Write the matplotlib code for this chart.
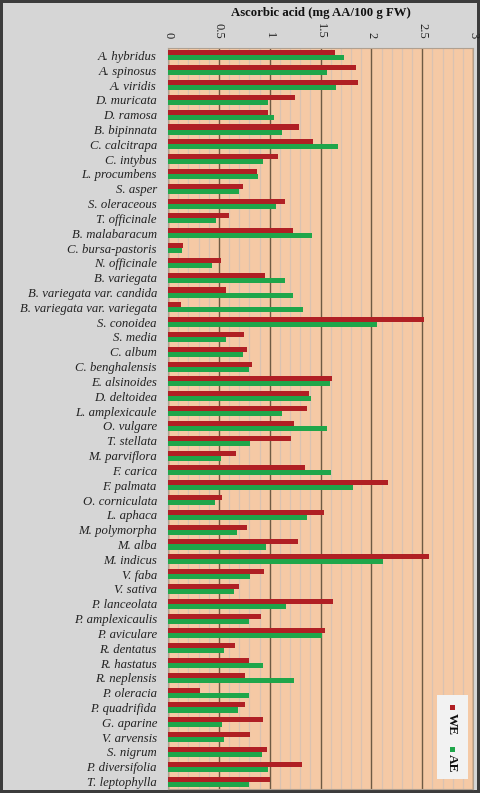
import numpy as np
import matplotlib.pyplot as plt
from matplotlib.patches import Rectangle

species = ['A. hybridus', 'A. spinosus', 'A. viridis', 'D. muricata', 'D. ramosa',
           'B. bipinnata', 'C. calcitrapa', 'C. intybus', 'L. procumbens', 'S. asper',
           'S. oleraceous', 'T. officinale', 'B. malabaracum', 'C. bursa-pastoris',
           'N. officinale', 'B. variegata', 'B. variegata var. candida',
           'B. variegata var. variegata', 'S. conoidea', 'S. media', 'C. album',
           'C. benghalensis', 'E. alsinoides', 'D. deltoidea', 'L. amplexicaule',
           'O. vulgare', 'T. stellata', 'M. parviflora', 'F. carica', 'F. palmata',
           'O. corniculata', 'L. aphaca', 'M. polymorpha', 'M. alba', 'M. indicus',
           'V. faba', 'V. sativa', 'P. lanceolata', 'P. amplexicaulis', 'P. aviculare',
           'R. dentatus', 'R. hastatus', 'R. neplensis', 'P. oleracia', 'P. quadrifida',
           'G. aparine', 'V. arvensis', 'S. nigrum', 'P. diversifolia', 'T. leptophylla']

we = [1.64, 1.85, 1.87, 1.25, 0.98, 1.29, 1.43, 1.08, 0.88, 0.74,
      1.15, 0.60, 1.23, 0.15, 0.52, 0.95, 0.57, 0.13, 2.52, 0.75,
      0.78, 0.83, 1.61, 1.39, 1.37, 1.24, 1.21, 0.67, 1.35, 2.16,
      0.53, 1.53, 0.78, 1.28, 2.57, 0.94, 0.70, 1.62, 0.91, 1.54,
      0.66, 0.80, 0.76, 0.31, 0.76, 0.93, 0.81, 0.97, 1.32, 1.00]

ae = [1.73, 1.56, 1.65, 0.98, 1.04, 1.12, 1.67, 0.93, 0.89, 0.70,
      1.06, 0.47, 1.42, 0.14, 0.43, 1.15, 1.23, 1.33, 2.06, 0.57,
      0.74, 0.80, 1.59, 1.41, 1.12, 1.56, 0.81, 0.52, 1.60, 1.82,
      0.46, 1.37, 0.68, 0.96, 2.11, 0.81, 0.65, 1.16, 0.80, 1.51,
      0.55, 0.93, 1.24, 0.80, 0.69, 0.53, 0.55, 0.92, 0.98, 0.80]

series = ['WE', 'AE']
colors = ['#b01f24', '#1fa64a']

plt.rcParams['font.family'] = ['Liberation Serif', 'DejaVu Serif']

W, H = 480, 793
fig = plt.figure(figsize=(W / 100, H / 100), dpi=100)
fig.patch.set_facecolor('#d6d6d6')
fig.patch.set_edgecolor('#3c3c3c')
fig.patch.set_linewidth(4)

x0, x1, y0, y1 = 168, 473, 48, 789
ax = fig.add_axes([x0 / W, 1 - y1 / H, (x1 - x0) / W, (y1 - y0) / H])
ax.set_facecolor('#f5c9a5')

y = np.arange(len(species))
h = 0.34
ax.barh(y - h / 2, we, height=h, color=colors[0], zorder=3)
ax.barh(y + h / 2, ae, height=h, color=colors[1], zorder=3)

ax.set_xlim(0, 3)
ax.set_ylim(len(species) - 0.5, -0.5)
ax.set_yticks(y)
ax.set_yticklabels(species, fontsize=9.2, style='italic', color='#222222')
ax.tick_params(axis='y', length=0, pad=8)

ax.xaxis.tick_top()
ax.set_xticks(np.arange(0, 3.01, 0.5))
ax.set_xticklabels(['0', '0.5', '1', '1.5', '2', '2.5', '3'])
ax.set_xticks(np.arange(0, 3.01, 0.1), minor=True)
ax.tick_params(axis='x', which='both', length=0, pad=7, labelsize=9, labelcolor='#222222')
for t in ax.get_xticklabels():
    t.set_rotation(-90)
    t.set_va('bottom')
    t.set_ha('center')

ax.grid(axis='x', which='major', color='#6e5a44', linewidth=1.0, zorder=1)
ax.grid(axis='x', which='minor', color='#d9c2b2', linewidth=0.9, zorder=0)
ax.grid(axis='y', visible=False)
for s in ax.spines.values():
    s.set_color('#b0a090')
    s.set_linewidth(0.8)

fig.text((x0 + x1) / 2 / W, 1 - 13 / H, 'Ascorbic acid (mg AA/100 g FW)',
         ha='center', va='center', fontsize=9.2, fontweight='bold', color='#111111')

# legend box, rotated like the rest of the sheet
lx0, lx1, ly0, ly1 = 437, 468, 695, 779
fig.patches.append(Rectangle((lx0 / W, 1 - ly1 / H), (lx1 - lx0) / W, (ly1 - ly0) / H,
                             transform=fig.transFigure, facecolor='#f2f2f2',
                             edgecolor='none', zorder=5))
for name, col, sy, ty in zip(series, colors, [707, 749], [724, 763]):
    fig.patches.append(Rectangle((449.5 / W, 1 - (sy + 2.5) / H), 5 / W, 5 / H,
                                 transform=fig.transFigure, facecolor=col,
                                 edgecolor='none', zorder=6))
    fig.text(452 / W, 1 - ty / H, name, rotation=-90, ha='center', va='center',
             fontsize=9.5, fontweight='bold', color='#111111', zorder=7)

fig.savefig('out.png', dpi=100, facecolor=fig.get_facecolor(), edgecolor=fig.get_edgecolor())
